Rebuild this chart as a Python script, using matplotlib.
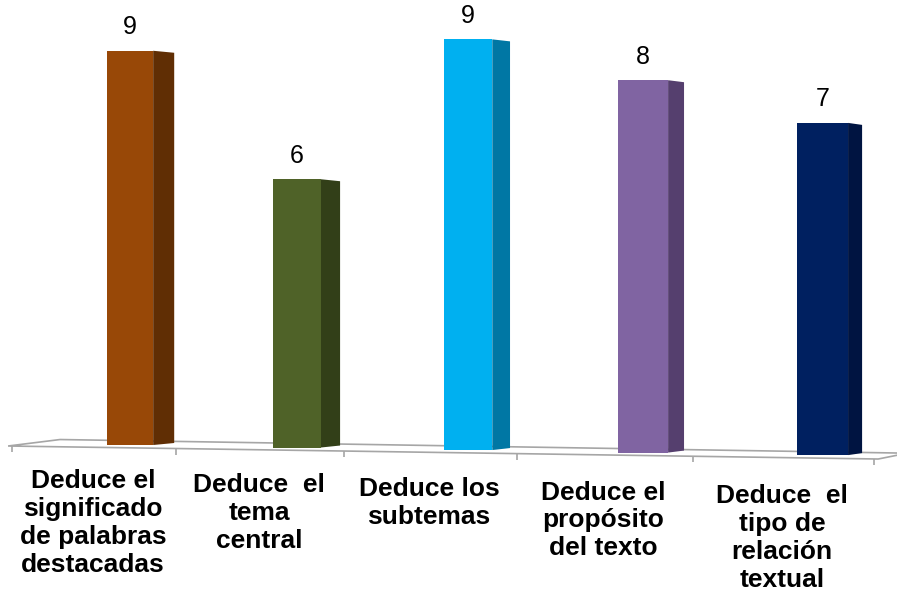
import numpy as np
import matplotlib.pyplot as plt
from matplotlib.patches import Polygon

# datos del grafico
categories = [
    "Deduce el\nsignificado\nde palabras\ndestacadas",
    "Deduce  el\ntema\ncentral",
    "Deduce los\nsubtemas",
    "Deduce el\npropósito\ndel texto",
    "Deduce  el\ntipo de\nrelación\ntextual",
]
values = [9, 6, 9, 8, 7]
front_colors = ["#984807", "#4F6228", "#00B0F0", "#8064A2", "#002060"]
side_colors = ["#602E04", "#323F18", "#0077A4", "#553F6E", "#001441"]

plt.rcParams['font.family'] = ['Liberation Sans', 'DejaVu Sans']

# escala con perspectiva (las barras de la derecha se ven mas grandes)
A = 0.01262


def fwd(x):
    x = np.asarray(x, dtype=float)
    return x + A * x ** 2


def inv(y):
    y = np.asarray(y, dtype=float)
    with np.errstate(invalid='ignore'):
        return (-1 + np.sqrt(np.maximum(1 + 4 * A * y, 0))) / (2 * A)


fig = plt.figure(figsize=(8.97, 5.91), dpi=100)
ax = fig.add_axes([0, 0, 1, 1])
ax.set_xscale('function', functions=(fwd, inv))
ax.set_xlim(-0.797, 4.408)
ax.set_ylim(-3.356, 10.23)
ax.axis('off')

x = np.arange(len(values))
width = 0.28
base = -0.058 * x
# altura con un poco de perspectiva
heights = np.array(values) * (1.007 + 0.021 * x)

# piso
floor = Polygon([(-0.747, -0.023), (-0.427, 0.126), (4.408, -0.184),
                 (4.45, -0.2), (4.305, -0.322)],
                closed=True, facecolor='white', edgecolor='#A6A6A6',
                linewidth=1.2, zorder=1)
ax.add_patch(floor)

# marcas del eje en el borde frontal del piso
ticks = np.arange(len(values) + 1) - 0.72
front_y = -0.023 + (ticks + 0.747) * (-0.299 / 5.052)
ax.vlines(ticks, front_y - 0.14, front_y, color='#A6A6A6', linewidth=1.2, zorder=1)

# barras: cara frontal
ax.bar(x, heights, width=width, bottom=base, color=front_colors,
       linewidth=0, zorder=3)

# cara lateral y valores
depth = 0.127 - 0.0125 * x
for i in range(len(values)):
    xr = x[i] + width / 2
    b = base[i]
    t = base[i] + heights[i]
    side = Polygon([(xr, b), (xr + depth[i], b + 0.046),
                    (xr + depth[i], t - 0.046), (xr, t)],
                   closed=True, facecolor=side_colors[i], edgecolor='none',
                   zorder=2)
    ax.add_patch(side)
    ax.text(x[i], t + 0.38, str(values[i]), ha='center', va='baseline',
            fontsize=18, color='black', zorder=4)

# etiquetas de categorias
for i, cat in enumerate(categories):
    ax.text(i - 0.225, -0.56 - 0.086 * i, cat, ha='center', va='top',
            fontsize=19, fontweight='bold', linespacing=1.2, color='black')

fig.savefig('out.png', dpi=100)
